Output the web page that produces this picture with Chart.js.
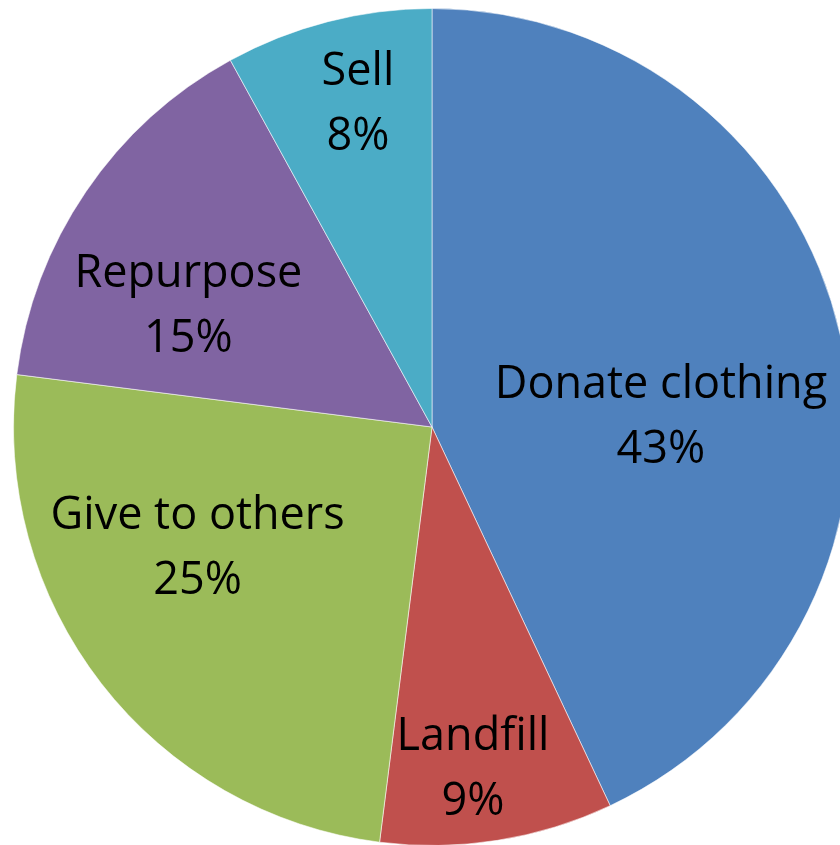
<!DOCTYPE html>
<html>
<head>
<meta charset="utf-8">
<title>What happens to unwanted clothing</title>
<script src="https://cdn.jsdelivr.net/npm/chart.js@4/dist/chart.umd.min.js"></script>
<style>
  html, body { margin: 0; padding: 0; background: #ffffff; overflow: hidden; }
  #wrap { width: 864px; height: 854px; }
</style>
</head>
<body>
<div id="wrap"><canvas id="pie" width="864" height="854"></canvas></div>
<script>
// Where unwanted clothing ends up (percent of respondents)
const categories = ['Donate clothing', 'Landfill', 'Give to others', 'Repurpose', 'Sell'];
const shares = [43, 9, 25, 15, 8];
const sliceColors = ['#4F81BD', '#C0504D', '#9BBB59', '#8064A2', '#4BACC6'];

// Label anchor of each slice, as an offset from the pie centre in units of the radius
// (the point midway between the name baseline and the percent baseline)
const labelAnchors = [
  [0.547, 0.008],
  [0.098, 0.850],
  [-0.560, 0.321],
  [-0.582, -0.257],
  [-0.177, -0.739]
];

const sliceLabels = {
  id: 'sliceLabels',
  afterDatasetsDraw(chart) {
    const ctx = chart.ctx;
    const meta = chart.getDatasetMeta(0);
    const values = chart.data.datasets[0].data;
    const total = values.reduce((a, b) => a + b, 0);
    ctx.save();
    ctx.fillStyle = '#000000';
    ctx.font = '45px "Open Sans", sans-serif';
    ctx.textAlign = 'center';
    ctx.textBaseline = 'alphabetic';
    meta.data.forEach((arc, i) => {
      const r = arc.outerRadius;
      const ax = arc.x + labelAnchors[i][0] * r;
      const ay = arc.y + labelAnchors[i][1] * r;
      const pct = Math.round(values[i] / total * 100) + '%';
      ctx.fillText(chart.data.labels[i], ax, ay - 32.5);
      ctx.fillText(pct, ax, ay + 32.5);
    });
    ctx.restore();
  }
};

new Chart(document.getElementById('pie'), {
  type: 'pie',
  data: {
    labels: categories,
    datasets: [{
      data: shares,
      backgroundColor: sliceColors,
      borderColor: 'rgba(255,255,255,0.55)',
      borderWidth: 1
    }]
  },
  options: {
    responsive: false,
    animation: false,
    devicePixelRatio: 1,
    layout: { padding: { top: 8, bottom: 8, left: 13, right: 13 } },
    plugins: {
      legend: { display: false },
      tooltip: { enabled: false },
      title: { display: false }
    }
  },
  plugins: [sliceLabels]
});
</script>
</body>
</html>
